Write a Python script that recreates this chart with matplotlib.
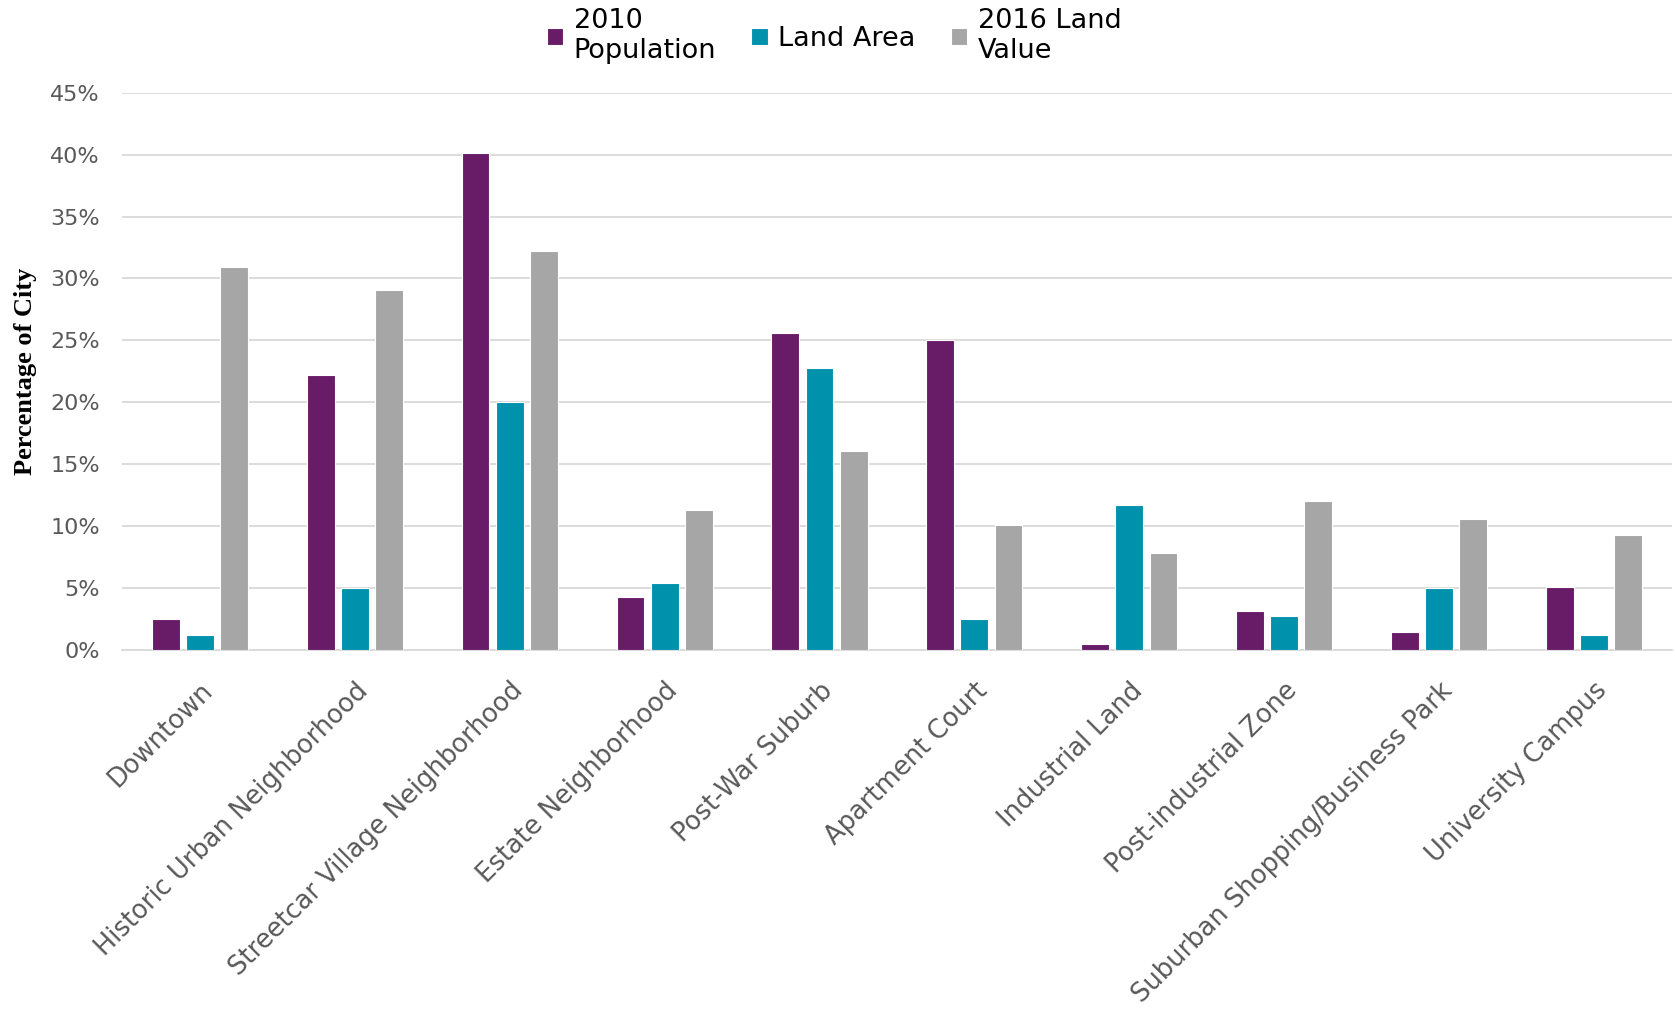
import matplotlib
matplotlib.use('Agg')

import matplotlib.pyplot as plt
import numpy as np

categories = [
    "Downtown",
    "Historic Urban Neighborhood",
    "Streetcar Village Neighborhood",
    "Estate Neighborhood",
    "Post-War Suburb",
    "Apartment Court",
    "Industrial Land",
    "Post-industrial Zone",
    "Suburban Shopping/Business Park",
    "University Campus",
]
population_2010 = [2.5, 22.2, 40.1, 4.3, 25.6, 25.0, 0.5, 3.1, 1.4, 5.1]
land_area = [1.2, 5.0, 20.0, 5.4, 22.8, 2.5, 11.7, 2.7, 5.0, 1.2]
land_value_2016 = [30.9, 29.1, 32.2, 11.3, 16.1, 10.1, 7.8, 12.0, 10.6, 9.3]

series_labels = ["2010\nPopulation", "Land Area", "2016 Land\nValue"]
colors = ["#681B66", "#0092AD", "#A6A6A6"]

plt.rcParams['font.family'] = ['DejaVu Sans']

fig = plt.figure(figsize=(16.75, 10.09), dpi=100)
ax = fig.add_axes([0.073, 0.356, 0.925, 0.552])

x = np.arange(len(categories))
width = 0.18
step = 0.22
for i, (vals, lab, col) in enumerate(zip([population_2010, land_area, land_value_2016], series_labels, colors)):
    ax.bar(x + (i - 1) * step, vals, width, color=col, label=lab,
           edgecolor="white", linewidth=0.8, zorder=3)

ax.set_xlim(-0.5, len(categories) - 0.5)
ax.set_ylim(0, 45)
ax.set_yticks(np.arange(0, 46, 5))
ax.set_yticklabels([f"{v}%" for v in range(0, 46, 5)], fontsize=16, color="#595959")
ax.set_xticks(x)
ax.set_xticklabels(categories, rotation=45, ha="right", rotation_mode="anchor",
                   fontsize=18.5, color="#595959")
ax.tick_params(axis="x", length=0, pad=20)
ax.tick_params(axis="y", length=0, pad=16)

ax.grid(axis="y", color="#D9D9D9", linewidth=1.3, zorder=0)
for s in ["top", "right", "left"]:
    ax.spines[s].set_visible(False)
ax.spines["bottom"].set_color("#D9D9D9")
ax.spines["bottom"].set_linewidth(1.3)

ax.set_ylabel("Percentage of City", family="Liberation Serif", fontweight="bold",
              fontsize=19, color="black", labelpad=10)

fig.legend(loc="upper center", bbox_to_anchor=(0.498, 1.016), ncol=3, frameon=False,
           fontsize=19.5, handlelength=0.6, handleheight=0.6, handletextpad=0.4,
           columnspacing=1.3)

fig.savefig("out.png", dpi=100)
